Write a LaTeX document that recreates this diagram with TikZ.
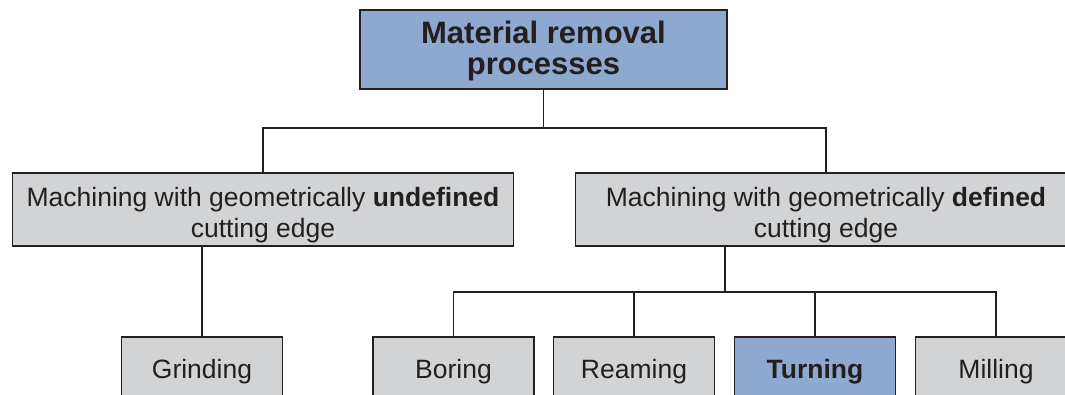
\documentclass[tikz,border=0pt]{standalone}
\usepackage{fontspec}
\setmainfont{Liberation Sans}
\definecolor{procblue}{HTML}{8EA8CF}
\definecolor{procgray}{HTML}{D1D3D4}
\definecolor{ink}{HTML}{231F20}
\newcommand{\twolines}[3][3pt]{\raisebox{-#1}[\height][\depth]{\begin{tabular}{@{}c@{}}#2\\#3\end{tabular}}}
\begin{document}
\begin{tikzpicture}[x=1pt,y=-1pt,line width=1.6pt,draw=ink,
    box/.style={rectangle,draw=ink,fill=procgray,text=ink,align=center,inner sep=0pt,
        font=\fontsize{26.5}{31}\selectfont},
    main box/.style={box,fill=procblue,font=\fontsize{31}{31}\selectfont\bfseries,
        minimum width=367pt,minimum height=79pt},
    wide box/.style={box,minimum width=501pt,minimum height=73pt},
    leaf box/.style={box,minimum width=161pt,minimum height=64pt,text height=22pt,text depth=2.5pt},
    link/.style={ink,line width=1.6pt}]
                \useasboundingbox (0,0) rectangle (1065,394);
                \clip (0,0) rectangle (1065,394);

                \node[main box] at (543.5, 49.5) (mrp) {\twolines{Material removal}{processes}};
                \node[wide box] at (263, 209.5) (undef) {\twolines[6pt]{Machining with geometrically \textbf{undefined}}{cutting edge}};
                \node[wide box] at (826, 209.5) (def) {\twolines[6pt]{Machining with geometrically \textbf{defined}}{cutting edge}};

                \node[leaf box] at (202, 369) (grind) {Grinding};
                \node[leaf box] at (453.5, 369) (bore) {Boring};
                \node[leaf box] at (634, 369) (ream) {Reaming};
                \node[leaf box,fill=procblue,font=\fontsize{26.5}{31}\selectfont\bfseries] at (815, 369) (turn) {Turning};
                \node[leaf box] at (996, 369) (mill) {Milling};

                \coordinate (top bar) at (543.5, 128);
                \coordinate (def out) at (725, 246);
                \coordinate (def bar) at (725, 292);

                % first level
                \draw[link] (mrp.south) -- (top bar);
                \draw[link] (undef.north) |- (top bar) -| (def.north);

                % undefined edge
                \draw[link] (undef.south -| grind.north) -- (grind.north);

                % defined edge
                \draw[link] (def out) -- (def bar);
                \draw[link] (bore.north) |- (def bar) -| (mill.north);
                \draw[link] (ream.north) -- (ream.north |- def bar);
                \draw[link] (turn.north) -- (turn.north |- def bar);
            \end{tikzpicture}
\end{document}
